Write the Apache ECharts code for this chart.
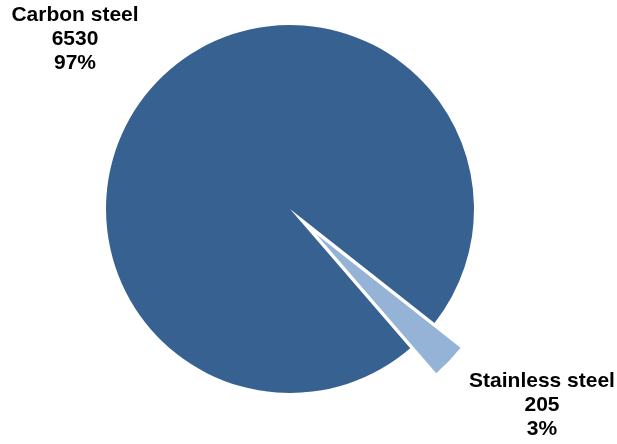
<!DOCTYPE html>
<html>
<head>
<meta charset="utf-8">
<script src="https://cdn.jsdelivr.net/npm/echarts@6/dist/echarts.min.js"></script>
<style>html,body{margin:0;padding:0;background:#fff;}#c{width:617px;height:444px;}</style>
</head>
<body>
<div id="c"></div>
<script>
var categories = ['Carbon steel', 'Stainless steel'];
var values = [6530, 205];
var colors = ['#376190', '#95B3D7'];
var explodedIndex = 1;

var labelCenters = [[75, 39], [542, 405]];
var pieCenter = [290, 209];
var explodeOffset = 36;
var startAngle = -49.2;

var total = values.reduce(function (a, b) { return a + b; }, 0);
// bisector angle of exploded slice (clockwise drawing from startAngle)
var before = 0;
for (var k = 0; k < explodedIndex; k++) before += values[k];
var midDeg = startAngle - (before + values[explodedIndex] / 2) / total * 360;
var midRad = midDeg * Math.PI / 180;
var explodedCenter = [pieCenter[0] + explodeOffset * Math.cos(midRad), pieCenter[1] - explodeOffset * Math.sin(midRad)];

var labelStyle = {
  show: true,
  position: 'inside',
  overflow: 'none',
  formatter: function (p) {
    return p.name + '\n' + p.value + '\n' + Math.round(p.value / total * 100) + '%';
  },
  fontFamily: 'Liberation Sans, Arial, sans-serif',
  fontWeight: 'bold',
  fontSize: 21,
  lineHeight: 24,
  color: '#000000',
  align: 'center'
};

function makeSeries(forExploded) {
  return {
    type: 'pie',
    center: forExploded ? explodedCenter : pieCenter,
    radius: 184,
    startAngle: startAngle,
    clockwise: true,
    selectedMode: false,
    emphasis: {disabled: true},
    label: labelStyle,
    labelLine: {show: false},
    labelLayout: function (p) {
      var c = labelCenters[p.dataIndex];
      return {x: c[0], y: c[1], align: 'center', verticalAlign: 'middle'};
    },
    data: categories.map(function (n, i) {
      var visible = (i === explodedIndex) === forExploded;
      return {
        name: n,
        value: values[i],
        itemStyle: {color: visible ? colors[i] : 'rgba(0,0,0,0)'},
        label: {show: visible}
      };
    })
  };
}

var chart = echarts.init(document.getElementById('c'), null, {renderer: 'canvas'});
chart.setOption({
  animation: false,
  backgroundColor: '#ffffff',
  series: [makeSeries(false), makeSeries(true)]
});
</script>
</body>
</html>
